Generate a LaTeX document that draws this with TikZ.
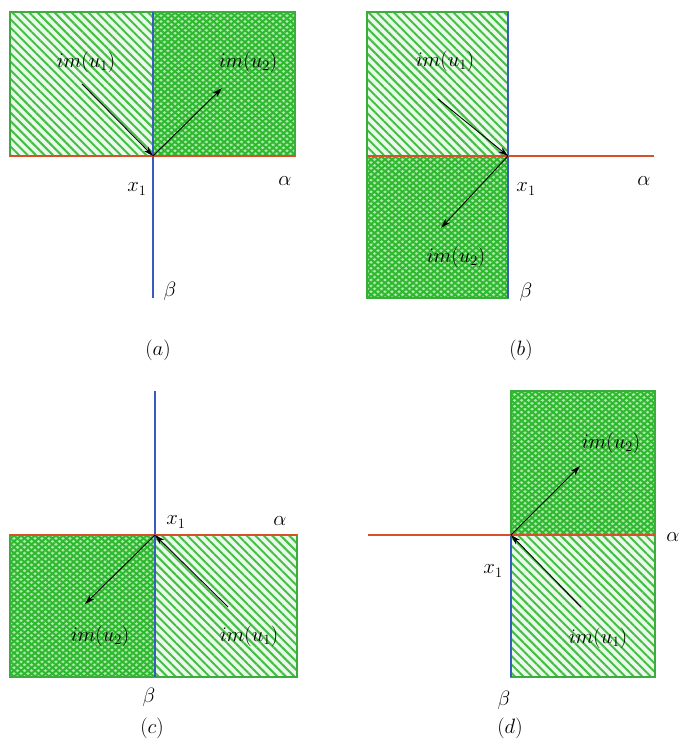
\documentclass[tikz,border=0pt]{standalone}
\usetikzlibrary{patterns.meta,arrows.meta}
\definecolor{hgreen}{HTML}{46BE46}
\definecolor{cgreen}{HTML}{2EB82E}
\definecolor{fgreen}{HTML}{3AAE3A}
\definecolor{hbg}{HTML}{EAFAEA}
\definecolor{cbg}{HTML}{A8E8A8}
\definecolor{redline}{HTML}{D65028}
\definecolor{blueline}{HTML}{3A5CC0}
\tikzset{
  hatchreg/.style={fill=hbg,postaction={pattern={Lines[angle=-45,distance=6pt,line width=2pt]},pattern color=hgreen}},
  crossreg/.style={fill=cbg,postaction={pattern={Lines[angle=40,distance=4.5pt,line width=1.9pt]},pattern color=cgreen},
                   postaction={pattern={Lines[angle=-40,distance=4.5pt,line width=1.9pt]},pattern color=cgreen}},
  frame/.style={draw=fgreen,line width=1.3pt},
  aline/.style={draw=redline,line width=1.1pt},
  bline/.style={draw=blueline,line width=1.2pt},
  vec/.style={-{Stealth[length=10pt,width=6pt]},line width=0.9pt,black},
  lbl/.style={inner sep=1pt,font=\fontsize{20}{24}\selectfont},
}
\begin{document}
\begin{tikzpicture}[x=1pt,y=-1pt]
\useasboundingbox (0,0) rectangle (681,747);
% ---------- (a)
\path[hatchreg] (10,12) rectangle (153,156);
\path[crossreg] (153,12) rectangle (295,156);
\draw[frame] (10,12) rectangle (295,156);
\draw[bline] (153,12) -- (153,298);
\draw[aline] (10,156) -- (295,156);
\coordinate (xa) at (153,156);
\coordinate (a1s) at (82,84);
\coordinate (a2e) at (222,88);
\draw[vec] (a1s) -- (xa);
\draw[vec] (xa) -- (a2e);
\node[lbl] (ia1) at (86,62) {$im(u_1)$};
\node[lbl] (ia2) at (248,62) {$im(u_2)$};
\node[lbl] (xa1) at (137,189) {$x_1$};
\node[lbl] (aa) at (285,181) {$\alpha$};
\node[lbl] (ba) at (170,291) {$\beta$};
\node[lbl] (ca) at (158,350) {$(a)$};
% ---------- (b)
\path[hatchreg] (367,12) rectangle (508,156);
\path[crossreg] (367,156) rectangle (508,298);
\draw[frame] (367,12) rectangle (508,298);
\draw[bline] (508,12) -- (508,298);
\draw[aline] (367,156) -- (654,156);
\coordinate (xb) at (508,156);
\coordinate (b1s) at (438,99);
\coordinate (b2e) at (441,228);
\draw[vec] (b1s) -- (xb);
\draw[vec] (xb) -- (b2e);
\node[lbl] (ib1) at (445,61) {$im(u_1)$};
\node[lbl] (ib2) at (456,257) {$im(u_2)$};
\node[lbl] (xb1) at (526,189) {$x_1$};
\node[lbl] (ab) at (644,181) {$\alpha$};
\node[lbl] (bb) at (526,292) {$\beta$};
\node[lbl] (cb) at (521,350) {$(b)$};
% ---------- (c)
\path[crossreg] (10,535) rectangle (155,677);
\path[hatchreg] (155,535) rectangle (297,677);
\draw[frame] (10,535) rectangle (297,677);
\draw[bline] (155,391) -- (155,677);
\draw[aline] (10,535) -- (297,535);
\coordinate (xc) at (155,535);
\coordinate (c1s) at (228,607);
\coordinate (c2e) at (85,604);
\draw[vec] (c1s) -- (xc);
\draw[vec] (xc) -- (c2e);
\node[lbl] (ic1) at (249,636) {$im(u_1)$};
\node[lbl] (ic2) at (100,636) {$im(u_2)$};
\node[lbl] (xc1) at (176,522) {$x_1$};
\node[lbl] (ac) at (280,521) {$\alpha$};
\node[lbl] (bc) at (149,697) {$\beta$};
\node[lbl] (cc) at (152,728) {$(c)$};
% ---------- (d)
\path[crossreg] (511,391) rectangle (655,535);
\path[hatchreg] (511,535) rectangle (655,677);
\draw[frame] (511,391) rectangle (655,677);
\draw[bline] (511,535) -- (511,677);
\draw[aline] (368,535) -- (655,535);
\coordinate (xd) at (511,535);
\coordinate (d1s) at (581,607);
\coordinate (d2e) at (580,466);
\draw[vec] (d1s) -- (xd);
\draw[vec] (xd) -- (d2e);
\node[lbl] (id1) at (598,638) {$im(u_1)$};
\node[lbl] (id2) at (611,443) {$im(u_2)$};
\node[lbl] (xd1) at (493,571) {$x_1$};
\node[lbl] (ad) at (673,537) {$\alpha$};
\node[lbl] (bd) at (504,700) {$\beta$};
\node[lbl] (cd) at (510,728) {$(d)$};
\end{tikzpicture}
\end{document}
